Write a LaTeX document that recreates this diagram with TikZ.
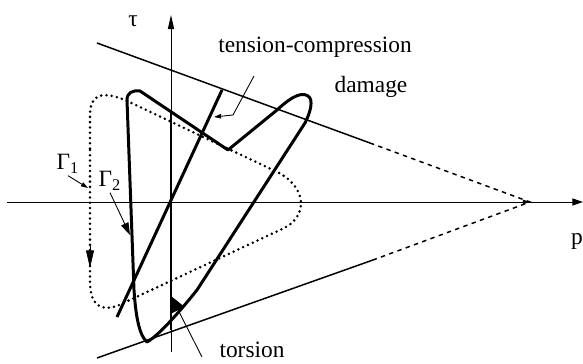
\documentclass[tikz,border=0pt]{standalone}
\usepackage{fontspec}
\setmainfont{Liberation Serif}
\usetikzlibrary{arrows.meta}

\begin{document}
\begin{tikzpicture}[x=0.02cm,y=-0.02cm,>={Triangle[length=4pt,width=2.5pt]},
  every node/.style={font=\fontsize{13.3}{16}\selectfont,inner sep=1pt},
  axis/.style={line width=0.55pt},
  bound/.style={line width=0.85pt},
  load/.style={line width=1.7pt,line join=round},
  dots/.style={line width=1.6pt,line cap=round,dash pattern=on 0pt off 3pt},
  pointer/.style={line width=0.5pt}]
\useasboundingbox (0,0) rectangle (583,364);
% axes
\coordinate (o) at (171,202);
\coordinate (pl) at (7,202);
\coordinate (pr) at (583,202);
\coordinate (tb) at (171,352);
\coordinate (tt) at (171,15);
\coordinate (apex) at (530,202);
\draw[axis,-{Triangle[length=6pt,width=4pt]}] (pl) -- (pr);
\draw[axis,-{Triangle[length=8pt,width=3.5pt]}] (tb) -- (tt);
\draw[axis,-{Triangle[length=4pt,width=2.5pt]}] (500,202) -- (apex);
% damage surface
\coordinate (u0) at (97,43);
\coordinate (u1) at (370,143);
\coordinate (l0) at (97,358);
\coordinate (l1) at (373,260);
\draw[bound] (u0) -- (u1);
\draw[bound] (l0) -- (l1);
\draw[bound,dash pattern=on 2.5pt off 2.5pt] (u1) -- (apex) -- (l1);
% loading paths
\draw[load] (222,90) -- (117,317);
\draw[load] (171,112) -- (171,330);
\draw[load] (127,100) .. controls (127,93) and (132,90) .. (140,91) -- (228,150)
  -- (277,110) .. controls (292,96) and (304,90) .. (310,98)
  .. controls (313,104) and (309,115) .. (305,123) -- (197,290)
  .. controls (185,305) and (160,335) .. (147,342)
  .. controls (140,336) and (136,320) .. (134,290) -- cycle;
\draw[dots] (90,150) -- (90,280) .. controls (90,303) and (98,312) .. (117,306)
  -- (280,230) .. controls (310,218) and (308,185) .. (273,170)
  -- (125,100) .. controls (105,92) and (90,92) .. (90,115) -- cycle;
\draw[line width=0.4pt,-{Triangle[length=10pt,width=4.5pt]}] (90,246) -- (90,268);
% labels
\node (tau) at (133,21) {τ};
\node (tc) at (315,47) {tension-compression};
\node (dam) at (371,87) {damage};
\node (g1) at (68,164) {Γ\textsubscript{1}};
\node (g2) at (110,181) {Γ\textsubscript{2}};
\node (tor) at (252,350) {torsion};
\node[anchor=base west] (p) at (569,245) {p};
% pointers
\coordinate (c1) at (88,188);
\coordinate (c2) at (130,235);
\coordinate (c3) at (171,296);
\coordinate (c4) at (214,117);
\coordinate (k4) at (233,115);
\coordinate (s3) at (202,357);
\coordinate (s4) at (254,76);
\draw[pointer,->] (g1.south) -- (c1);
\draw[pointer,-{Triangle[length=7pt,width=4.5pt]}] (g2.south) -- (c2);
\draw[pointer,-{Triangle[length=9pt,width=8pt]}] (s3) -- (c3);
\draw[pointer,->] (s4) -- (k4) -- (c4);
\end{tikzpicture}
\end{document}
